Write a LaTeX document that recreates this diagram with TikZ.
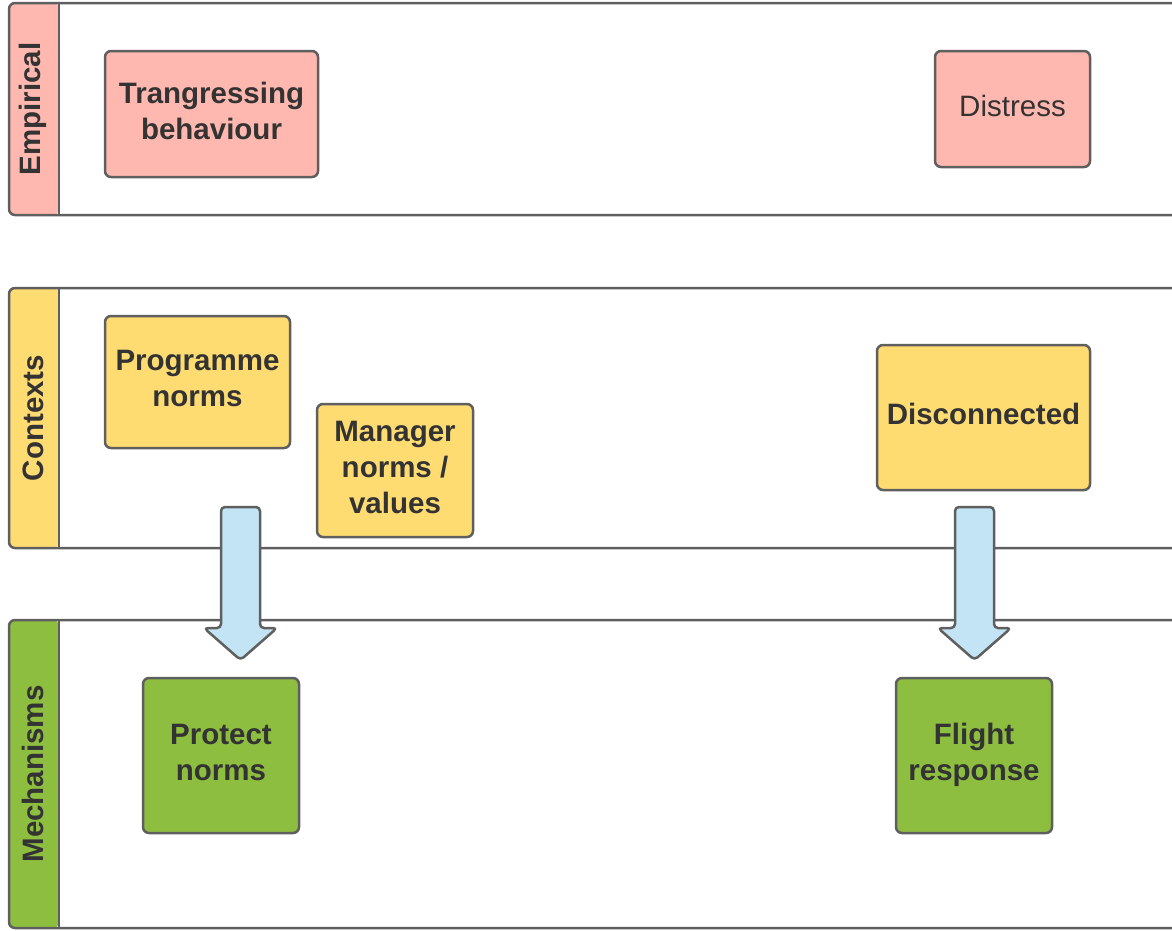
\documentclass[tikz,border=0pt]{standalone}
\usepackage{fontspec}
\setmainfont{Liberation Sans}
\usetikzlibrary{calc}
\definecolor{pinkc}{HTML}{FFB8B0}
\definecolor{yellowc}{HTML}{FEDC72}
\definecolor{greenc}{HTML}{8DBE3F}
\definecolor{bluec}{HTML}{C3E4F5}
\definecolor{edgec}{HTML}{5F5F5F}
\definecolor{textc}{HTML}{333333}
\tikzset{
  box/.style={draw=edgec, line width=2.5pt, rounded corners=6pt, align=center,
    text=textc, font=\fontsize{29.5}{36}\selectfont\bfseries, inner sep=0pt,
    execute at end node={\rule[-7pt]{0pt}{7pt}}},
  lane/.style={draw=edgec, line width=2.5pt, rounded corners=6pt},
  lanetitle/.style={rotate=90, text=textc, font=\fontsize{29.5}{36}\selectfont\bfseries},
  blockarrow/.style={draw=edgec, fill=bluec, line width=2.5pt, rounded corners=4pt, line join=round}
}
\begin{document}
\begin{tikzpicture}[x=1pt,y=-1pt]
\useasboundingbox (0,0) rectangle (1172,930);
\clip (0,0) rectangle (1172,930);
% lanes
\foreach \top/\bot/\col/\name/\lbl in {3/215/pinkc/Empirical/lE, 288/548/yellowc/Contexts/lC, 620/928/greenc/Mechanisms/lM}{
  \fill[\col, rounded corners=6pt] (9,\top) rectangle (59,\bot);
  \draw[lane] (1200,\top) -- (9,\top) -- (9,\bot) -- (1200,\bot);
  \draw[edgec, line width=2.5pt] (59,\top) -- (59,\bot);
  \node[lanetitle] (\lbl) at (33,{(\top+\bot)/2}) {\name};
}
% nodes
\node[box, fill=pinkc, minimum width=213pt, minimum height=126pt] (trans) at (211.5,114) {Trangressing\\behaviour};
\node[box, fill=pinkc, minimum width=155pt, minimum height=116pt, font=\fontsize{29.5}{36}\selectfont] (distress) at (1012.5,109) {Distress};
\node[box, fill=yellowc, minimum width=185pt, minimum height=132pt] (prog) at (197.5,382) {Programme\\norms};
\node[box, fill=yellowc, minimum width=156pt, minimum height=133pt] (mgr) at (395,470.5) {Manager\\norms /\\values};
\node[box, fill=yellowc, minimum width=213pt, minimum height=145pt] (disc) at (983.5,417.5) {Disconnected};
\node[box, fill=greenc, minimum width=156pt, minimum height=155pt] (protect) at (221,755.5) {Protect\\norms};
\node[box, fill=greenc, minimum width=156pt, minimum height=155pt] (flight) at (974,755.5) {Flight\\response};
% block arrows
\coordinate (a1s) at (240.5,507);
\coordinate (a1e) at (240.5,660);
\coordinate (a2s) at (974.5,507);
\coordinate (a2e) at (974.5,660);
\foreach \s/\e in {a1s/a1e, a2s/a2e}{
  \draw[blockarrow] ($(\s)+(-19.5,0)$) -- ($(\s)+(19.5,0)$) -- ($(\e)+(19.5,-32)$) -- ($(\e)+(36.5,-32)$)
    -- (\e) -- ($(\e)+(-36.5,-32)$) -- ($(\e)+(-19.5,-32)$) -- cycle;
}
\end{tikzpicture}
\end{document}
